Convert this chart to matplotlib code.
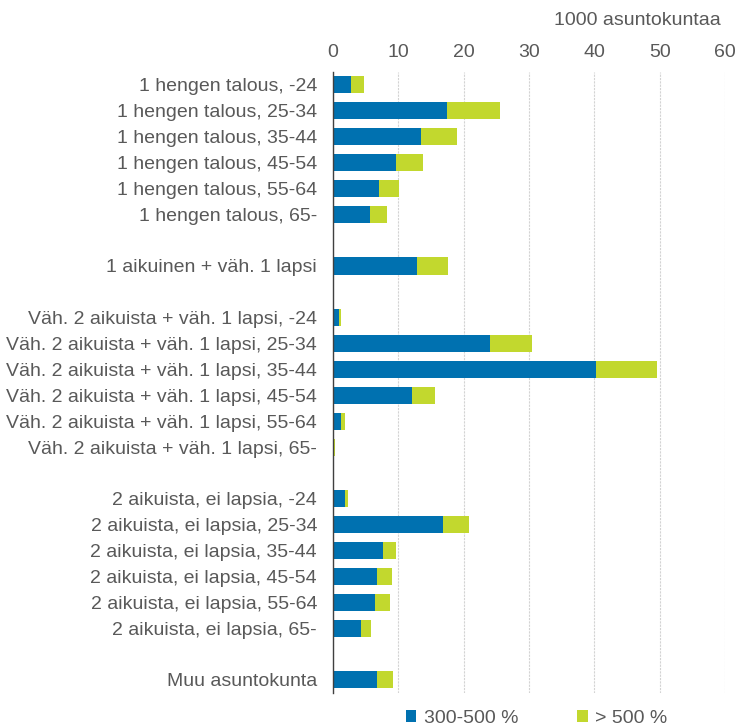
import numpy as np
import matplotlib
matplotlib.use('Agg')
import matplotlib.pyplot as plt

plt.rcParams['font.family'] = ['Liberation Sans', 'DejaVu Sans']

# categories, top to bottom ('' = empty gap row)
categories = [
    '1 hengen talous, -24', '1 hengen talous, 25-34', '1 hengen talous, 35-44',
    '1 hengen talous, 45-54', '1 hengen talous, 55-64', '1 hengen talous, 65-',
    '',
    '1 aikuinen + väh. 1 lapsi',
    '',
    'Väh. 2 aikuista + väh. 1 lapsi, -24', 'Väh. 2 aikuista + väh. 1 lapsi, 25-34',
    'Väh. 2 aikuista + väh. 1 lapsi, 35-44', 'Väh. 2 aikuista + väh. 1 lapsi, 45-54',
    'Väh. 2 aikuista + väh. 1 lapsi, 55-64', 'Väh. 2 aikuista + väh. 1 lapsi, 65-',
    '',
    '2 aikuista, ei lapsia, -24', '2 aikuista, ei lapsia, 25-34', '2 aikuista, ei lapsia, 35-44',
    '2 aikuista, ei lapsia, 45-54', '2 aikuista, ei lapsia, 55-64', '2 aikuista, ei lapsia, 65-',
    '',
    'Muu asuntokunta',
]

# 300-500 %
ahtaus_300_500 = [2.8, 17.4, 13.4, 9.7, 7.0, 5.7,
                  0,
                  12.9,
                  0,
                  0.9, 24.0, 40.3, 12.1, 1.3, 0.05,
                  0,
                  1.8, 16.9, 7.7, 6.8, 6.5, 4.3,
                  0,
                  6.8]
# > 500 %
ahtaus_yli_500 = [2.0, 8.1, 5.6, 4.1, 3.1, 2.5,
                  0,
                  4.7,
                  0,
                  0.3, 6.4, 9.3, 3.5, 0.5, 0.3,
                  0,
                  0.5, 3.9, 2.0, 2.2, 2.2, 1.5,
                  0,
                  2.4]

blue = '#0071b0'
green = '#c2d82e'
grey_text = '#595959'
fs = 14

fig = plt.figure(figsize=(7.38, 7.27), dpi=100)
ax = fig.add_axes([0.4512, 0.047, 0.5312, 0.854])

y = np.arange(len(categories))
b1 = ax.barh(y, ahtaus_300_500, height=0.66, color=blue, label='300-500 %')
b2 = ax.barh(y, ahtaus_yli_500, left=ahtaus_300_500, height=0.66, color=green, label='> 500 %')

ax.set_ylim(len(categories) - 0.5, -0.5)
ax.set_xlim(0, 60)
ax.set_xticks(range(0, 61, 10))
ax.set_yticks(y)
ax.set_yticklabels(categories)

ax.xaxis.tick_top()
ax.tick_params(axis='x', length=0, pad=8, labelsize=fs, labelcolor=grey_text)
ax.tick_params(axis='y', length=0, pad=11.5, labelsize=fs, labelcolor=grey_text)

ax.grid(axis='x', color='#d3d3d3', linestyle=(0, (2, 1)), linewidth=0.8)
ax.set_axisbelow(True)
for side in ['top', 'right', 'bottom']:
    ax.spines[side].set_visible(False)
ax.spines['left'].set_color('#404040')
ax.spines['left'].set_linewidth(1.0)

fig.text(0.976, 0.972, '1000 asuntokuntaa', ha='right', va='center',
         fontsize=fs, color=grey_text)

fig.legend(handles=[b1, b2], loc='center', bbox_to_anchor=(0.727, 0.012),
           ncol=2, frameon=False, fontsize=fs, handlelength=0.55, handleheight=0.55,
           columnspacing=3.0, handletextpad=0.4, labelcolor=grey_text)

fig.savefig('out.png', dpi=100)
